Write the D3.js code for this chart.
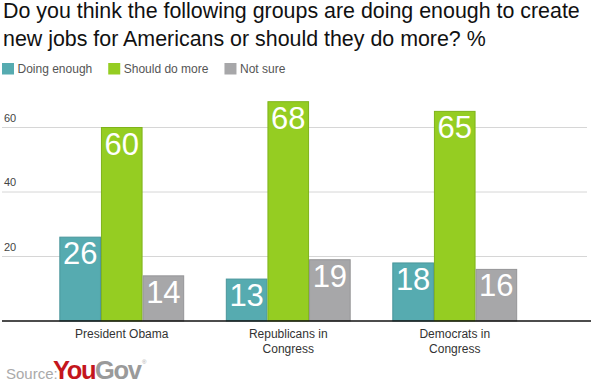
<!DOCTYPE html>
<html>
<head>
<meta charset="utf-8">
<script src="https://d3js.org/d3.v7.min.js"></script>
<style>
  body { margin: 0; background: #fff; }
  svg { font-family: "Liberation Sans", Arial, sans-serif; }
</style>
</head>
<body>
<div id="chart"></div>
<script>
// data
var groups = ["President Obama", "Republicans in Congress", "Democrats in Congress"];
var groupLines = [["President Obama"], ["Republicans in", "Congress"], ["Democrats in", "Congress"]];
var seriesNames = ["Doing enough", "Should do more", "Not sure"];
var doingEnough = [26, 13, 18];
var shouldDoMore = [60, 68, 65];
var notSure = [14, 19, 16];
var yTicks = [20, 40, 60];

var colors = ["#56abb0", "#95cd22", "#a7a7a9"];
var strokes = ["#4a969b", "#7fb31a", "#959597"];

var width = 600, height = 387;
var series = [doingEnough, shouldDoMore, notSure];

var svg = d3.select("#chart").append("svg")
  .attr("width", width)
  .attr("height", height);

/* Title */
var title = svg.append("text")
  .style("font-size", "21.4px")
  .attr("fill", "#111");
title.append("tspan").attr("x", 3).attr("y", 18).text("Do you think the following groups are doing enough to create");
title.append("tspan").attr("x", 3).attr("y", 45.5).text("new jobs for Americans or should they do more? %");

/* Legend */
var lx = 2;
seriesNames.forEach(function(name, i) {
  svg.append("rect")
    .attr("x", lx).attr("y", 63)
    .attr("width", 12).attr("height", 11.5)
    .attr("fill", colors[i]);
  var t = svg.append("text")
    .attr("x", lx + 15.5).attr("y", 73)
    .style("font-size", "12px")
    .attr("fill", "#555")
    .text(name);
  lx += 15.5 + t.node().getComputedTextLength() + 16;
});

/* Scales */
var y = d3.scaleLinear().domain([0, 20]).range([320.5, 256]);
var x0 = d3.scaleBand().domain(groups).range([17.7, 558.8])
  .paddingInner(0.25).paddingOuter(0.25);
var x1 = d3.scaleBand().domain(d3.range(seriesNames.length))
  .range([0, x0.bandwidth()]);

/* Gridlines */
svg.append("g").selectAll("line")
  .data(yTicks).enter().append("line")
  .attr("x1", 2).attr("x2", 587)
  .attr("y1", d => y(d) + 0.5).attr("y2", d => y(d) + 0.5)
  .attr("stroke", "#d6d6d6").attr("stroke-width", 1);

svg.append("g").selectAll("text")
  .data(yTicks).enter().append("text")
  .attr("x", 4)
  .attr("y", d => y(d) - 5.5)
  .style("font-size", "11px")
  .attr("fill", "#444")
  .text(d => d);

/* Bars */
var bars = svg.append("g");
series.forEach(function(vals, s) {
  var g = bars.append("g");
  g.selectAll("rect")
    .data(vals).enter().append("rect")
    .attr("x", (d, i) => x0(groups[i]) + x1(s) + 0.5)
    .attr("y", d => y(d) + 0.5)
    .attr("width", x1.bandwidth() - 1)
    .attr("height", d => y(0) - y(d))
    .attr("fill", colors[s])
    .attr("stroke", strokes[s])
    .attr("stroke-width", 1);
  g.selectAll("text")
    .data(vals).enter().append("text")
    .attr("x", (d, i) => x0(groups[i]) + x1(s) + x1.bandwidth() / 2)
    .attr("y", d => y(d) + 27.5)
    .attr("text-anchor", "middle")
    .style("font-size", "31px")
    .attr("fill", "#fff")
    .text(d => d);
});

/* Baseline */
svg.append("line")
  .attr("x1", 2).attr("x2", 591)
  .attr("y1", y(0) + 0.5).attr("y2", y(0) + 0.5)
  .attr("stroke", "#111").attr("stroke-width", 1.5);

/* Category labels */
var cats = svg.append("g");
groups.forEach(function(gname, i) {
  var t = cats.append("text")
    .attr("text-anchor", "middle")
    .style("font-size", "12px")
    .attr("fill", "#333");
  groupLines[i].forEach(function(line, j) {
    t.append("tspan")
      .attr("x", x0(gname) + x0.bandwidth() / 2)
      .attr("y", 338 + j * 15)
      .text(line);
  });
});

/* Source */
svg.append("text")
  .attr("x", 6).attr("y", 379)
  .style("font-size", "15px")
  .attr("fill", "#aaa")
  .text("Source:");
var logo = svg.append("text")
  .attr("x", 53).attr("y", 379)
  .style("font-size", "25.5px")
  .style("font-weight", "bold")
  .style("letter-spacing", "-1.4px");
logo.append("tspan").attr("fill", "#c4161c").text("You");
logo.append("tspan").attr("fill", "#9a9a9a").text("Gov");
svg.append("text")
  .attr("x", 142).attr("y", 364)
  .style("font-size", "6px")
  .attr("fill", "#aaa")
  .text("®");
</script>
</body>
</html>
